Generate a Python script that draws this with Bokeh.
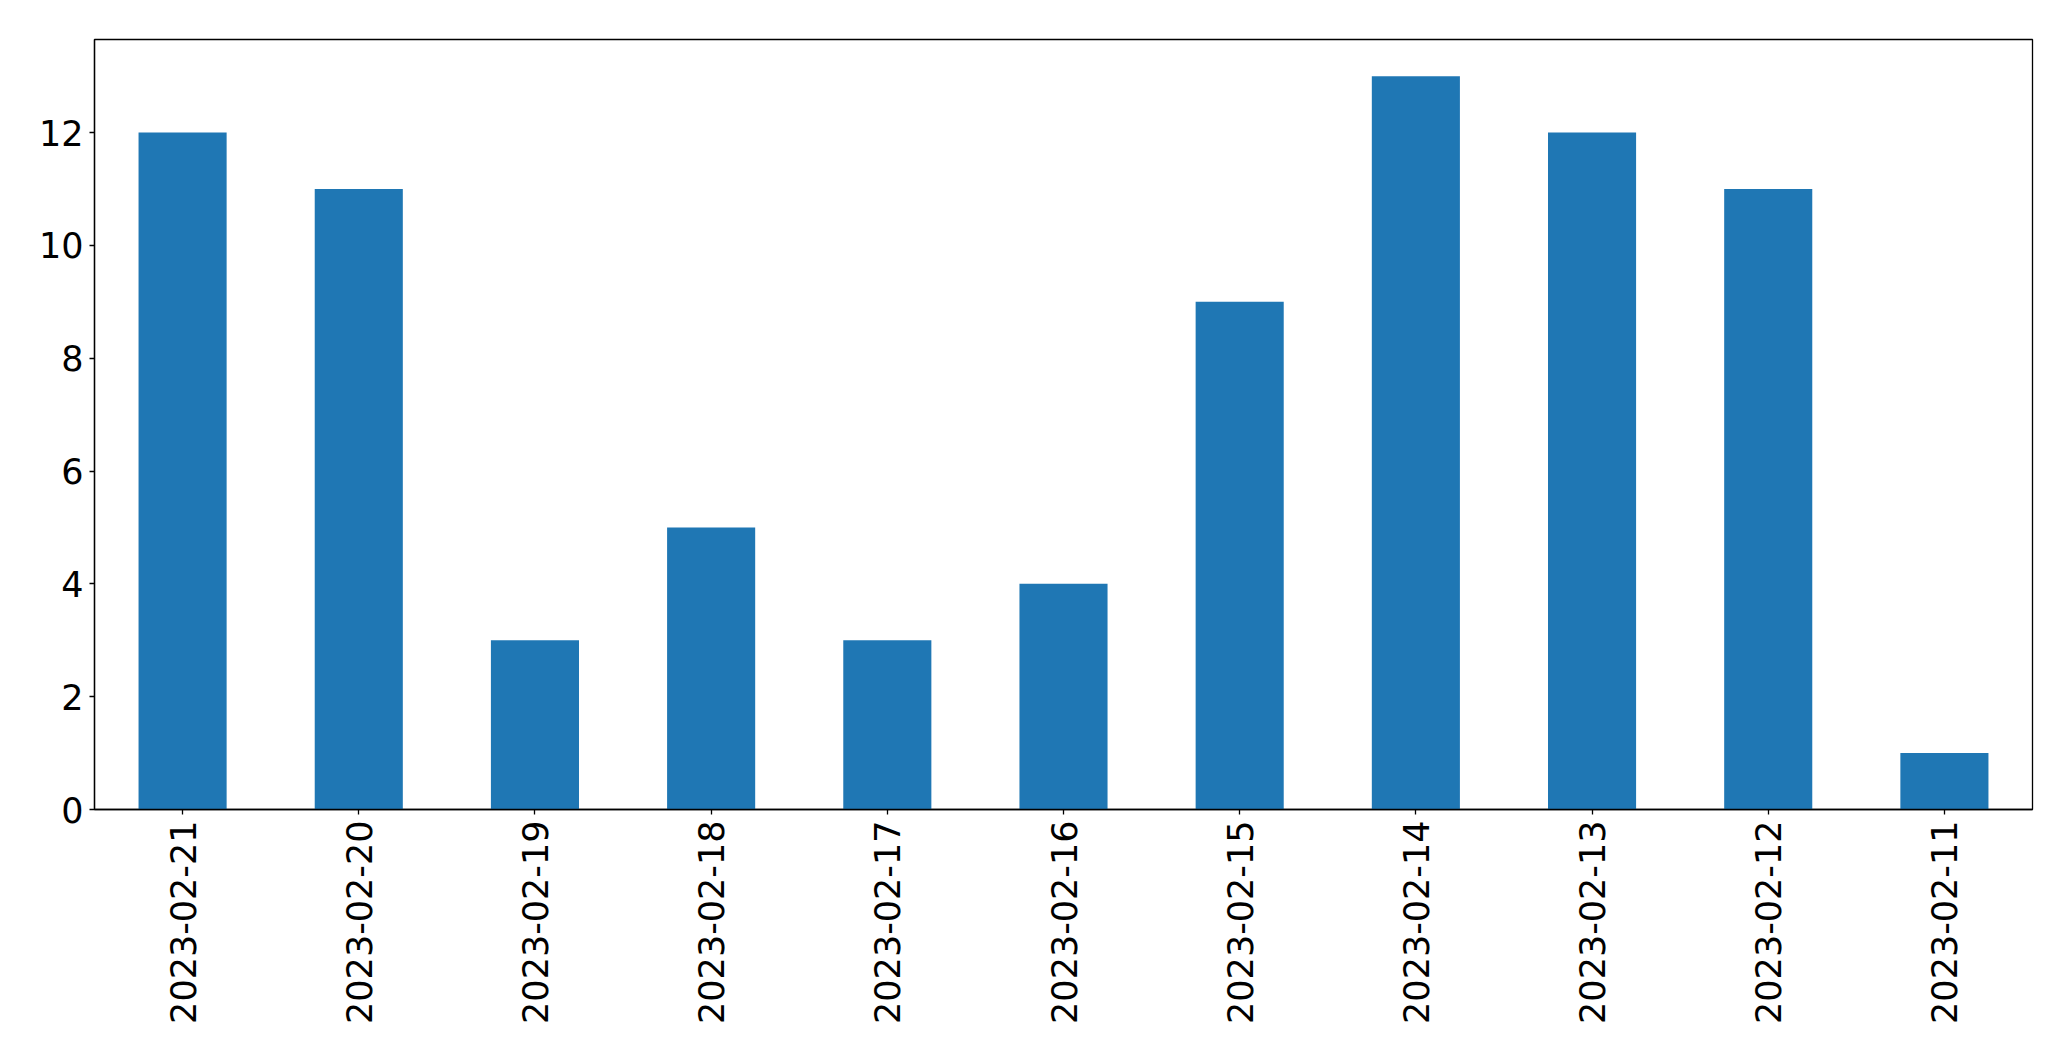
from math import pi
from bokeh.plotting import figure
from bokeh.models import ColumnDataSource, FactorRange, Range1d, FixedTicker
from bokeh.embed import file_html
from bokeh.resources import INLINE

dates = ["2023-02-21", "2023-02-20", "2023-02-19", "2023-02-18", "2023-02-17",
         "2023-02-16", "2023-02-15", "2023-02-14", "2023-02-13", "2023-02-12", "2023-02-11"]
counts = [12, 11, 3, 5, 3, 4, 9, 13, 12, 11, 1]
y_ticks = [0, 2, 4, 6, 8, 10, 12]

src = ColumnDataSource(dict(date=dates, count=counts))

p = figure(x_range=FactorRange(*dates, range_padding=0),
           y_range=Range1d(0, max(counts) * 1.05),
           frame_width=1938, frame_height=770,
           min_border_left=94, min_border_top=39, min_border_right=20, min_border_bottom=200,
           output_backend="svg", toolbar_location=None)

p.vbar(x="date", top="count", width=0.5, source=src, color="#1f77b4", line_color=None)

p.xgrid.visible = False
p.ygrid.visible = False
p.outline_line_color = "black"
p.outline_line_width = 1.3
p.outline_line_alpha = 1

p.yaxis.ticker = FixedTicker(ticks=y_ticks)
p.xaxis.major_label_orientation = pi / 2

for ax in (p.xaxis[0], p.yaxis[0]):
    ax.major_label_text_font = "DejaVu Sans"
    ax.major_label_text_font_size = "35px"
    ax.major_label_text_color = "black"
    ax.axis_line_color = "black"
    ax.axis_line_width = 1.3
    ax.major_tick_line_color = "black"
    ax.major_tick_line_width = 1.3
    ax.major_tick_in = 0
    ax.major_tick_out = 5
    ax.minor_tick_line_color = None
    ax.major_label_standoff = 6

p.background_fill_color = "white"
p.border_fill_color = "white"

open("out.html", "w").write(file_html(p, INLINE))
